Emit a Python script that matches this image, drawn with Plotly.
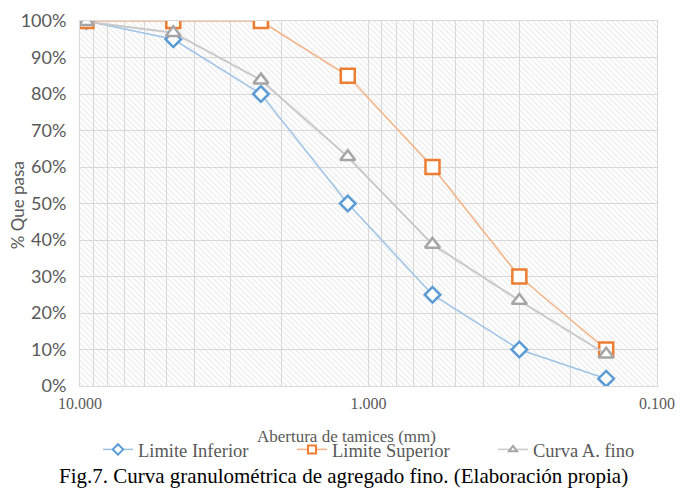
import plotly.graph_objects as go

# ---- data ----
sieve_mm = [9.5, 4.75, 2.36, 1.18, 0.6, 0.3, 0.15]
limite_inferior = [100, 95, 80, 50, 25, 10, 2]
limite_superior = [100, 100, 100, 85, 60, 30, 10]
curva_fino = [99.8, 96.8, 83.8, 62.8, 38.8, 23.4, 8.7]
series_names = ["Limite Inferior", "Limite Superior", "Curva A. fino"]
x_major_ticks = [10, 1, 0.1]
x_major_labels = ["10.000", "1.000", "0.100"]
x_minor_ticks = [9, 8, 7, 6, 5, 4, 3, 2, 0.9, 0.8, 0.7, 0.6, 0.5, 0.4, 0.3, 0.2]
y_ticks = list(range(0, 101, 10))
y_labels = [f"{v}%" for v in y_ticks]

SERIF = "Liberation Serif"
SANS = "Lato"
GRID = "#d9d9d9"
TXT = "#595959"

styles = [
    dict(line="#9dc3e6", mk="#5b9bd5", sym="diamond", size=12, lw=1.5, lsize=8),
    dict(line="#f4b183", mk="#ed7d31", sym="square", size=14, lw=1.5, lsize=8),
    dict(line="#c9c9c9", mk="#a5a5a5", sym="triangle-up", size=13, lw=2, lsize=7),
]
series_values = [limite_inferior, limite_superior, curva_fino]
legend_ids = ["legend", "legend2", "legend3"]

fig = go.Figure()

# hatched plot background
fig.add_trace(go.Scatter(
    x=[10, 0.1, 0.1, 10, 10], y=[0, 0, 100, 100, 0],
    mode="lines", line=dict(width=0), fill="toself",
    fillcolor="rgba(0,0,0,0)",
    fillpattern=dict(shape="\\", fgcolor="#cfcfcf", bgcolor="rgba(0,0,0,0)",
                     size=4, solidity=0.25),
    hoverinfo="skip", showlegend=False,
))

for name, vals, st in zip(series_names, series_values, styles):
    fig.add_trace(go.Scatter(
        x=sieve_mm, y=vals, name=name, mode="lines+markers",
        line=dict(color=st["line"], width=st["lw"]),
        marker=dict(symbol=st["sym"], size=st["size"], color="white",
                    line=dict(color=st["mk"], width=2.5)),
        showlegend=False,
    ))

# legend entries (smaller markers, like the original legend)
for name, st, lg in zip(series_names, styles, legend_ids):
    fig.add_trace(go.Scatter(
        x=[None], y=[None], name=name, mode="lines+markers",
        line=dict(color=st["line"], width=1.5),
        marker=dict(symbol=st["sym"], size=st["lsize"], color="white",
                    line=dict(color=st["mk"], width=2)),
        showlegend=True, legend=lg, hoverinfo="skip",
    ))

leg_common = dict(orientation="h", xanchor="left", y=-0.175, yanchor="middle",
                  font=dict(family=SERIF, size=18.5, color=TXT),
                  bgcolor="rgba(0,0,0,0)")
left_px = [98, 292, 493]
plot_l, plot_w = 80, 577

fig.update_layout(
    width=680, height=489,
    margin=dict(l=80, r=23, t=21, b=103, autoexpand=False),
    paper_bgcolor="white", plot_bgcolor="white",
    showlegend=True,
    legend=dict(x=(left_px[0] - plot_l) / plot_w, **leg_common),
    legend2=dict(x=(left_px[1] - plot_l) / plot_w, **leg_common),
    legend3=dict(x=(left_px[2] - plot_l) / plot_w, **leg_common),
    xaxis=dict(
        type="log", range=[1, -1], autorange=False, automargin=False,
        tickvals=x_major_ticks, ticktext=x_major_labels,
        tickfont=dict(family=SERIF, size=16, color=TXT),
        ticklabelstandoff=3,
        showgrid=True, gridcolor=GRID, gridwidth=1,
        minor=dict(tickvals=x_minor_ticks, showgrid=True, gridcolor=GRID, gridwidth=1, ticklen=0),
        ticks="", zeroline=False,
        showline=True, linecolor=GRID, mirror=True,
    ),
    yaxis=dict(
        range=[0, 100], autorange=False, automargin=False,
        tickvals=y_ticks, ticktext=y_labels,
        tickfont=dict(family=SANS, size=18, color=TXT),
        ticklabelstandoff=9,
        showgrid=True, gridcolor=GRID, gridwidth=1,
        ticks="", zeroline=False,
        showline=True, linecolor=GRID, mirror=True,
    ),
    annotations=[
        dict(text="Abertura de tamices (mm)", xref="paper", yref="paper",
             x=0.462, y=-0.1397, xanchor="center", yanchor="middle", showarrow=False,
             font=dict(family=SERIF, size=17, color=TXT)),
        dict(text="% Que pasa", xref="paper", yref="paper", textangle=-90,
             x=-0.107, y=0.496, xanchor="center", yanchor="middle", showarrow=False,
             font=dict(family=SANS, size=17, color=TXT)),
        dict(text="Fig.7. Curva granulométrica de agregado fino. (Elaboración propia)",
             xref="paper", yref="paper",
             x=(343 - plot_l) / plot_w, y=-0.2466, xanchor="center", yanchor="middle",
             showarrow=False,
             font=dict(family=SERIF, size=21, color="black")),
    ],
)

fig.write_html("out.html", config={"displayModeBar": False},
               post_script="document.body.style.margin='0';document.body.style.overflow='hidden';")
